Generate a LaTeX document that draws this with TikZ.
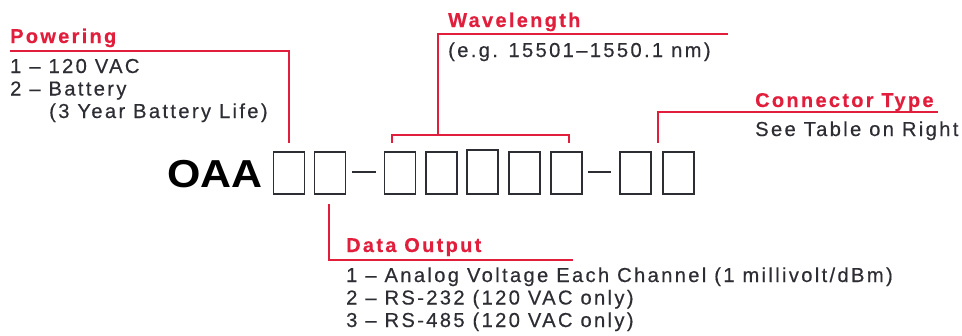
\documentclass[tikz,border=0pt]{standalone}
\usepackage{fontspec}
\setmainfont{Liberation Sans}
\newfontfamily\spacedfont{Liberation Sans}[LetterSpace=11.5,FakeBold=0.4]

\definecolor{leadred}{RGB}{225,30,60}
\definecolor{inkgray}{RGB}{45,45,52}

\tikzset{
  lead/.style={leadred, line width=1.5pt},
  slot/.style={draw=inkgray, line width=1.8pt, minimum width=31pt, minimum height=42pt, inner sep=0pt},
  head/.style={anchor=base west, inner sep=0pt, text=leadred, font=\spacedfont\bfseries\fontsize{20}{23}\selectfont},
  body/.style={anchor=base west, inner sep=0pt, text=inkgray, font=\spacedfont\fontsize{20.2}{23}\selectfont},
}

\begin{document}
\begin{tikzpicture}[x=1pt,y=-1pt]
\useasboundingbox (0,0) rectangle (962,335);

% part number
\node[anchor=base west, inner sep=0pt, font=\bfseries\fontsize{39}{40}\selectfont] (oaa) at (167,187) {\scalebox{1.1}[1]{OAA}};
\foreach \n/\x in {1/289,2/330,3/400,4/441.5,6/524.5,7/566.5,8/635.5,9/678.5}
  \node[slot] (b\n) at (\x,173) {};
\node[slot, minimum height=44pt] (b5) at (482.5,172) {};
\draw[inkgray, line width=1.8pt] (b2.east) ++(6,-1) coordinate (d1a) -- ++(24,0) coordinate (d1b);
\draw[inkgray, line width=1.8pt] (b7.east) ++(5,-1) coordinate (d2a) -- ++(23,0) coordinate (d2b);

% powering
\node[head] (pw) at (10,43) {Powering};
\node[body] (pw1) at (10,73) {1 – 120 VAC};
\node[body] (pw2) at (10,95.5) {2 – Battery};
\node[body] (pw3) at (49,118) {(3 Year Battery Life)};
\coordinate (pw-a) at (10,51);
\coordinate (pw-b) at (289,143);
\draw[lead] (pw-a) -| (pw-b);

% wavelength
\node[head] (wl) at (448,27) {Wavelength};
\node[body] (wl1) at (448,57) {(e.g. 15501–1550.1 nm)};
\coordinate (wl-a) at (728,34);
\coordinate (wl-b) at (438,135);
\coordinate (wl-l) at (392,143);
\coordinate (wl-r) at (569,143);
\draw[lead] (wl-a) -| (wl-b);
\draw[lead] (wl-l) |- (wl-b) -| (wl-r);

% connector type
\node[head] (ct) at (755,107) {Connector Type};
\node[body] (ct1) at (755,136) {See Table on Right};
\coordinate (ct-a) at (938,112);
\coordinate (ct-b) at (658,143);
\draw[lead] (ct-a) -| (ct-b);

% data output
\node[head] (do) at (346,252) {Data Output};
\node[body] (do1) at (346,282) {1 – Analog Voltage Each Channel (1 millivolt/dBm)};
\node[body] (do2) at (346,304.5) {2 – RS-232 (120 VAC only)};
\node[body] (do3) at (346,327) {3 – RS-485 (120 VAC only)};
\coordinate (do-a) at (329,204);
\coordinate (do-b) at (573,260);
\draw[lead] (do-a) |- (do-b);

\end{tikzpicture}
\end{document}
